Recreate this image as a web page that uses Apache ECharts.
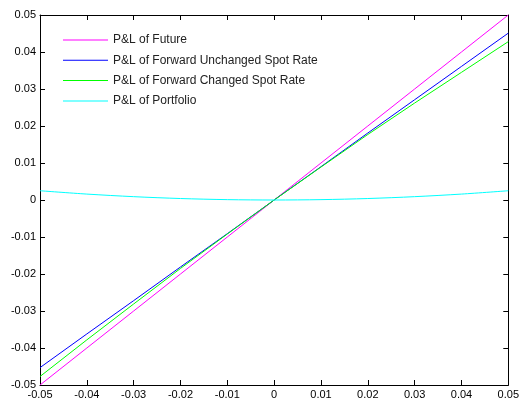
<!DOCTYPE html>
<html><head><meta charset="utf-8">
<script src="https://cdn.jsdelivr.net/npm/echarts@6/dist/echarts.min.js"></script>
<style>html,body{margin:0;padding:0;background:#fff}#c{width:522px;height:400px}</style>
</head><body><div id="c"></div>
<script>
const xValues = [-0.05,-0.04,-0.03,-0.02,-0.01,0,0.01,0.02,0.03,0.04,0.05];
const future = [-0.05,-0.04,-0.03,-0.02,-0.01,0,0.01,0.02,0.03,0.04,0.05];
const forwardUnchanged = [-0.0453,-0.0362,-0.0272,-0.0181,-0.0091,0,0.0090,0.0181,0.0271,0.0361,0.0451];
const forwardChanged = [-0.0477,-0.0378,-0.0281,-0.0185,-0.0092,0,0.0089,0.0177,0.0262,0.0345,0.0428];
const portfolio = [0.0025,0.0016,0.0009,0.0004,0.0001,0,0.0001,0.0004,0.0009,0.0016,0.0025];
const tickLabels = ['-0.05','-0.04','-0.03','-0.02','-0.01','0','0.01','0.02','0.03','0.04','0.05'];
const names = ['P&L of Future','P&L of Forward Unchanged Spot Rate','P&L of Forward Changed Spot Rate','P&L of Portfolio'];
const colors = ['#ff00ff','#0000ff','#00ff00','#00ffff'];
const seriesData = [future, forwardUnchanged, forwardChanged, portfolio];

function fmt(v){ const i = Math.round(v*100); return tickLabels[i+5] !== undefined ? tickLabels[i+5] : String(v); }
const font = {fontFamily:'Liberation Sans, Arial, sans-serif', fontSize:11, color:'#000'};
function axis(pos, show){
  return {
    type:'value', min:-0.05, max:0.05, interval:0.01, position:pos,
    axisLine:{show:true, onZero:false, lineStyle:{color:'#000', width:1}},
    axisTick:{show:true, inside:true, length:5, lineStyle:{color:'#000'}},
    axisLabel:Object.assign({show:show, formatter:fmt, margin:4}, font),
    splitLine:{show:false}
  };
}
const chart = echarts.init(document.getElementById('c'), null, {renderer:'canvas'});
chart.setOption({
  animation:false,
  backgroundColor:'#fff',
  grid:{left:40, top:15, width:470, height:370, containLabel:false},
  xAxis:[axis('bottom', true), axis('top', false)],
  yAxis:[axis('left', true), axis('right', false)],
  legend:{
    orient:'vertical', left:58, top:29, itemWidth:45, itemHeight:1, itemGap:8.3,
    icon:'rect',
    textStyle:{fontFamily:'Liberation Sans, Arial, sans-serif', fontSize:12, color:'#222'},
    data:names
  },
  series: names.map((n,k)=>({
    name:n, type:'line', xAxisIndex:0, yAxisIndex:0,
    data: xValues.map((x,i)=>[x, seriesData[k][i]]),
    showSymbol:false, smooth:k===3 ? 0.3 : false,
    lineStyle:{color:colors[k], width:1}, itemStyle:{color:colors[k]}
  }))
});
</script></body></html>
